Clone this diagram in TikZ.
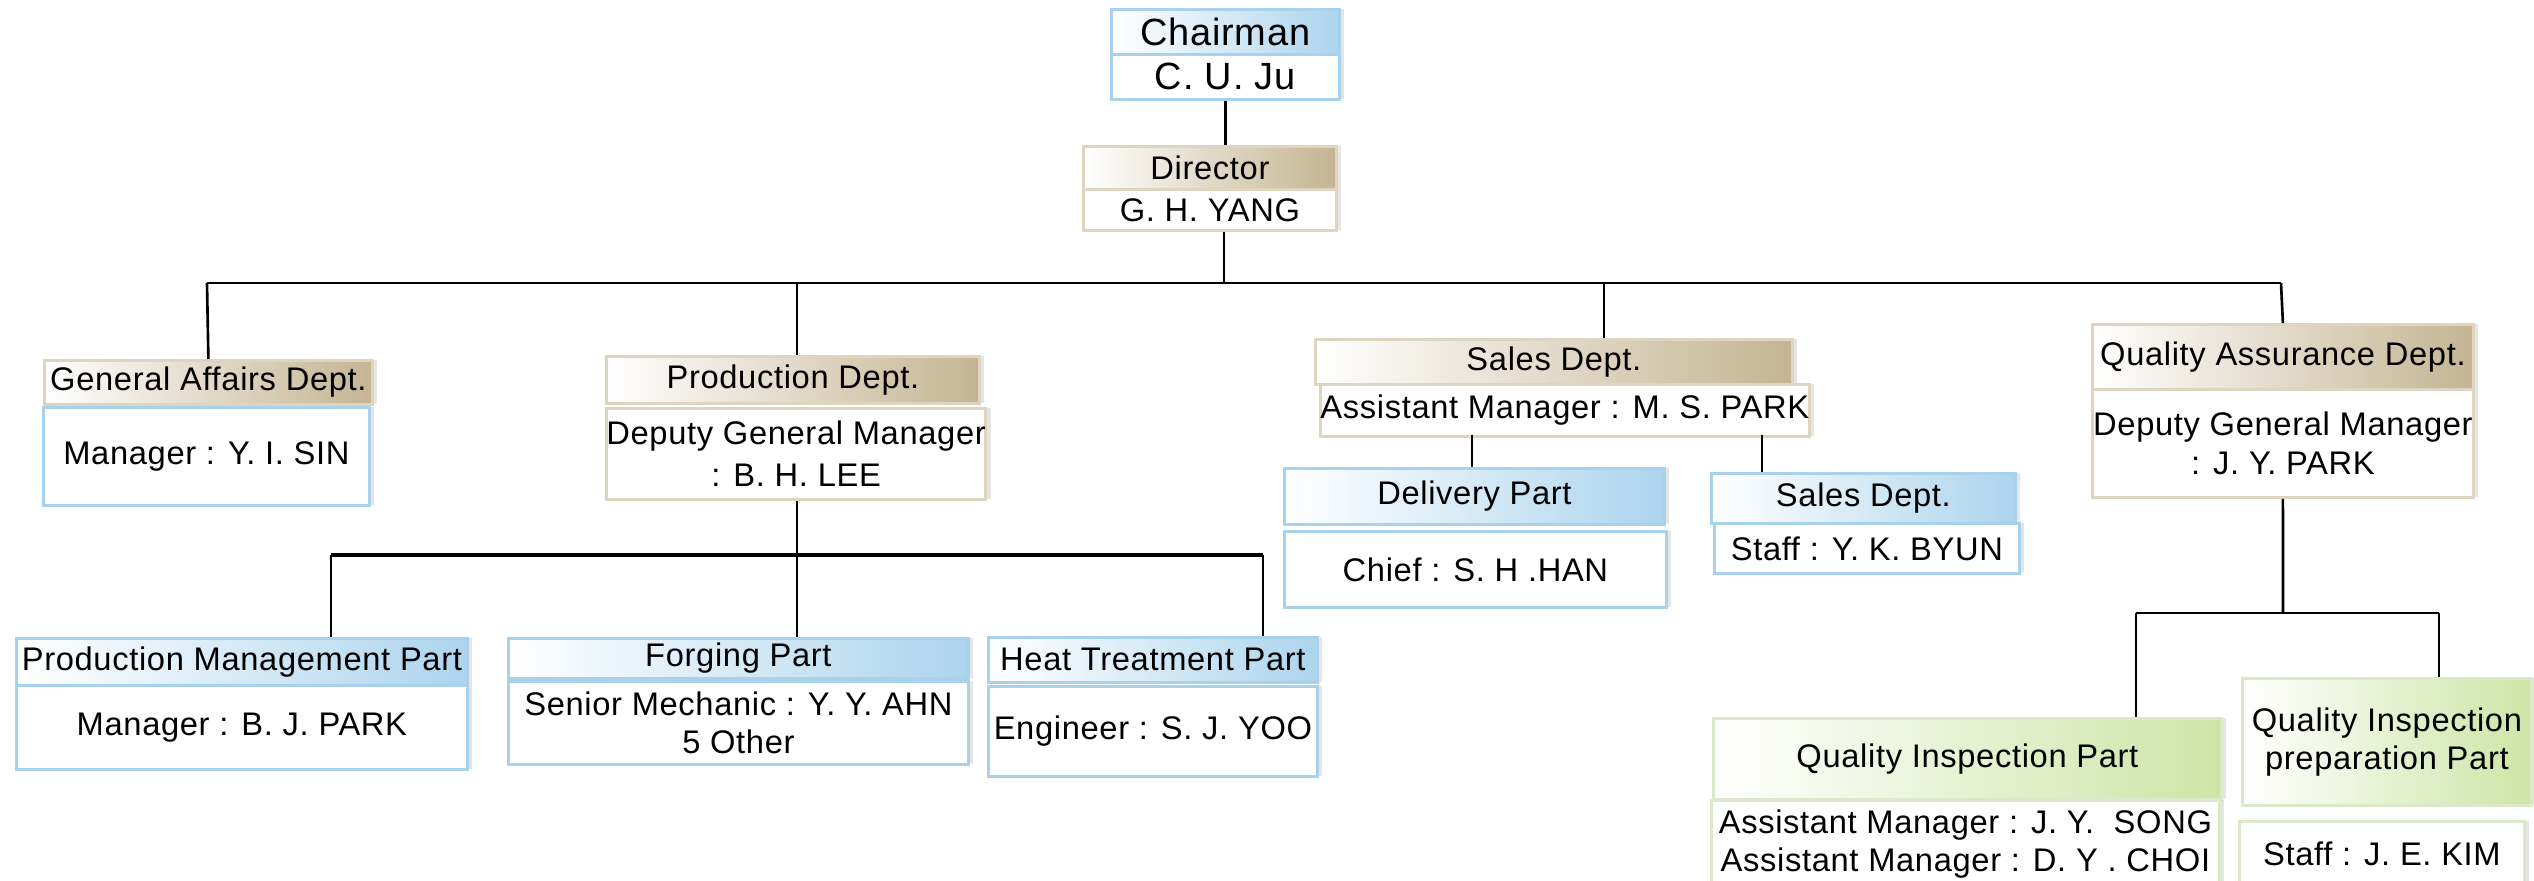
\documentclass[tikz,border=0pt]{standalone}
\usepackage{fontspec}
\setmainfont{Liberation Sans}[LetterSpace=2]
\usepackage{xcolor}
\usepackage{tikz}
\usetikzlibrary{shadows}

\definecolor{tanR}{RGB}{196,180,146}
\definecolor{tanLine}{RGB}{222,212,192}
\definecolor{blueR}{RGB}{172,212,237}
\definecolor{blueLine}{RGB}{168,209,236}
\definecolor{greenR}{RGB}{206,228,166}
\definecolor{greenLine}{RGB}{220,233,200}

\tikzset{
  unit/.style={draw, line width=0.8pt, inner sep=0pt, anchor=north west, align=center,
    font=\fontsize{9.3pt}{11pt}\selectfont,
    drop shadow={shadow xshift=0.5mm, shadow yshift=0mm, opacity=0.1, fill=black}},
  tanhead/.style={unit, draw=tanLine, left color=white, right color=tanR},
  tanbody/.style={unit, draw=tanLine, fill=white},
  bluehead/.style={unit, draw=blueLine, left color=white, right color=blueR},
  bluebody/.style={unit, draw=blueLine, fill=white},
  greenhead/.style={unit, draw=greenLine, left color=white, right color=greenR},
  greenbody/.style={unit, draw=greenLine, fill=white},
  link/.style={line width=0.75pt}
}

\begin{document}
\begin{tikzpicture}[x=0.1mm, y=-0.1mm]
      \useasboundingbox (0,0) rectangle (2534,881);
      \clip (0,0) rectangle (2534,881);

      % top
      \node[bluehead, minimum width=22.8mm, minimum height=4.5mm, font=\fontsize{10.8pt}{13pt}\selectfont] (chairHead) at (1110,8) {Chairman};
      \node[bluebody, minimum width=22.8mm, minimum height=4.5mm, font=\fontsize{10.8pt}{13pt}\selectfont] (chairBody) at (1110,53) {C. U. Ju};
      \node[tanhead, minimum width=25.3mm, minimum height=4.3mm] (dirHead) at (1082,145) {Director};
      \node[tanbody, minimum width=25.3mm, minimum height=4.1mm] (dirBody) at (1082,188) {G. H. YANG};

      % departments
      \node[tanhead, minimum width=32.8mm, minimum height=4.4mm] (gaHead) at (43,359) {General Affairs Dept.};
      \node[bluebody, minimum width=32.6mm, minimum height=9.8mm] (gaBody) at (42,406) {Manager : Y. I. SIN};
      \node[tanhead, minimum width=37.3mm, minimum height=4.7mm] (prodHead) at (605,355) {Production Dept.};
      \node[tanbody, minimum width=37.8mm, minimum height=9.1mm] (prodBody) at (605,407) {Deputy General Manager\\[1pt] : B. H. LEE};
      \node[tanhead, minimum width=47.7mm, minimum height=4.5mm] (salesHead) at (1314,338) {Sales Dept.};
      \node[tanbody, minimum width=47.2mm, minimum height=5.2mm] (salesBody) at (1319,383) {Assistant Manager : M. S. PARK};
      \node[tanhead, minimum width=38.1mm, minimum height=6.5mm] (qaHead) at (2091,323) {Quality Assurance Dept.};
      \node[tanbody, minimum width=38.1mm, minimum height=10.8mm] (qaBody) at (2091,388) {Deputy General Manager\\ : J. Y. PARK};

      % parts
      \node[bluehead, minimum width=45.1mm, minimum height=4.7mm] (pmHead) at (15,637) {Production Management Part};
      \node[bluebody, minimum width=45.1mm, minimum height=8.4mm] (pmBody) at (15,684) {Manager : B. J. PARK};
      \node[bluehead, minimum width=46.0mm, minimum height=4.0mm] (forgeHead) at (507,637) {Forging Part};
      \node[bluebody, minimum width=46.0mm, minimum height=8.3mm] (forgeBody) at (507,680) {Senior Mechanic : Y. Y. AHN\\5 Other};
      \node[bluehead, minimum width=32.9mm, minimum height=4.5mm] (heatHead) at (987,636) {Heat Treatment Part};
      \node[bluebody, minimum width=32.9mm, minimum height=9.0mm] (heatBody) at (987,685) {Engineer : S. J. YOO};
      \node[bluehead, minimum width=38.0mm, minimum height=5.6mm] (delHead) at (1283,467) {Delivery Part};
      \node[bluebody, minimum width=38.2mm, minimum height=7.6mm] (delBody) at (1283,530) {Chief : S. H .HAN};
      \node[bluehead, minimum width=30.4mm, minimum height=5.0mm] (staffHead) at (1710,472) {Sales Dept.};
      \node[bluebody, minimum width=30.5mm, minimum height=5.0mm] (staffBody) at (1713,522) {Staff : Y. K. BYUN};
      \node[greenhead, minimum width=50.8mm, minimum height=8.1mm] (qiHead) at (1712,717) {Quality Inspection Part};
      \node[greenbody, minimum width=50.8mm, minimum height=8.7mm] (qiBody) at (1710,799) {Assistant Manager : J. Y.~~SONG\\Assistant Manager : D. Y . CHOI};
      \node[greenhead, minimum width=28.9mm, minimum height=12.7mm] (qpHead) at (2241,677) {Quality Inspection\\preparation Part};
      \node[greenbody, minimum width=28.5mm, minimum height=6.4mm] (qpBody) at (2238,820) {Staff : J. E. KIM};

      % connectors
      \coordinate (bus) at (1224,283);
      \coordinate (busL) at (207,283);
      \coordinate (busR) at (2281,283);
      \coordinate (prodTap) at (797,283);
      \coordinate (salesTap) at (1604,283);
      \draw[link] (chairBody.south) -- (chairBody.south |- dirHead.north);
      \draw[link] (bus |- dirBody.south) -- (bus);
      \draw[link] (busL) -- (busR);
      \draw[link] (busL) -- (gaHead.north);
      \draw[link] (prodTap) -- (prodTap |- prodHead.north);
      \draw[link] (salesTap) -- (salesTap |- salesHead.north);
      \draw[link] (busR) -- (qaHead.north);

      \coordinate (prodBus) at (797,555);
      \coordinate (prodBusL) at (331,555);
      \coordinate (prodBusR) at (1263,555);
      \draw[link] (prodBus |- prodBody.south) -- (prodBus);
      \draw[line width=1pt] (prodBusL) -- (prodBusR);
      \draw[link] (prodBusL) -- (prodBusL |- pmHead.north);
      \draw[link] (prodBus) -- (prodBus |- forgeHead.north);
      \draw[link] (prodBusR) -- (prodBusR |- heatHead.north);

      \coordinate (delTap) at (1472,435);
      \coordinate (staffTap) at (1762,435);
      \draw[link] (delTap) -- (delTap |- delHead.north);
      \draw[link] (staffTap) -- (staffTap |- staffHead.north);

      \coordinate (qaBus) at (2283,613);
      \coordinate (qaBusL) at (2136,613);
      \coordinate (qaBusR) at (2439,613);
      \draw[link] (qaBody.south) -- (qaBus);
      \draw[link] (qaBusL) -- (qaBusR);
      \draw[link] (qaBusL) -- (qaBusL |- qiHead.north);
      \draw[link] (qaBusR) -- (qaBusR |- qpHead.north);
\end{tikzpicture}
\end{document}
